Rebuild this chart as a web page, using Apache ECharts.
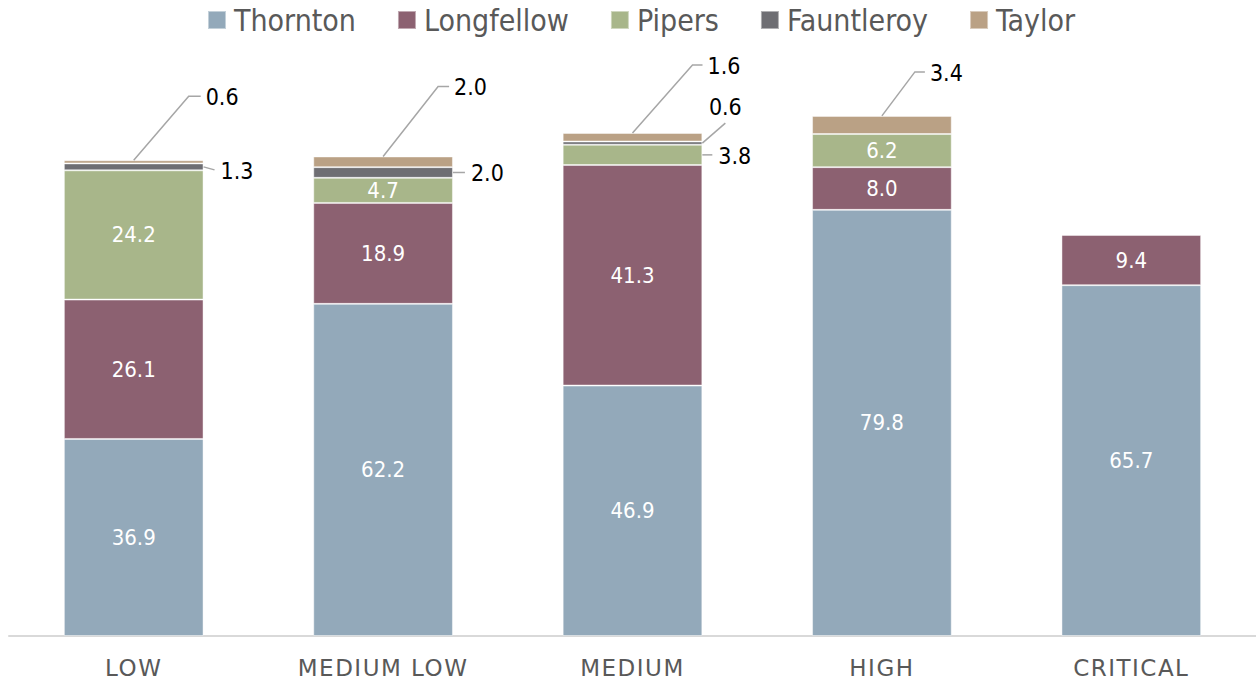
<!DOCTYPE html>
<html><head><meta charset="utf-8">
<script src="https://cdn.jsdelivr.net/npm/echarts@6/dist/echarts.min.js"></script>
<style>html,body{margin:0;padding:0;background:#fff}#c{width:1256px;height:682px}</style>
</head><body><div id="c"></div>
<script>
// ---- data ----
const categories = ['LOW', 'MEDIUM LOW', 'MEDIUM', 'HIGH', 'CRITICAL'];
const seriesNames = ['Thornton', 'Longfellow', 'Pipers', 'Fauntleroy', 'Taylor'];
const thornton   = [36.9, 62.2, 46.9, 79.8, 65.7];
const longfellow = [26.1, 18.9, 41.3, 8.0, 9.4];
const pipers     = [24.2, 4.7, 3.8, 6.2, null];
const fauntleroy = [1.3, 2.0, 0.6, null, null];
const taylor     = [0.6, 2.0, 1.6, 3.4, null];

// ---- styling / layout (not data) ----
const colors = ['#93A9BA', '#8C6171', '#A8B68A', '#6E6E73', '#BAA185'];
const BAR_RATIO = 0.56;
const INSIDE_MIN = 4;
const FONT = '"DejaVu Sans Condensed", "DejaVu Sans", sans-serif';
const leaderLayout = {
  'Fauntleroy|0': { kind: 'side', len: 11, dy: 3 },
  'Taylor|0':     { kind: 'up', dx: 55, dy: 64, h: 12 },
  'Fauntleroy|1': { kind: 'side', len: 12, dy: 0 },
  'Taylor|1':     { kind: 'up', dx: 55, dy: 70, h: 11 },
  'Pipers|2':     { kind: 'side', len: 10, dy: 0 },
  'Fauntleroy|2': { kind: 'diag', dx: 23, dy: 20 },
  'Taylor|2':     { kind: 'up', dx: 60, dy: 68, h: 10 },
  'Taylor|3':     { kind: 'up', dx: 33, dy: 44, h: 10 }
};

const valuesBySeries = [thornton, longfellow, pipers, fauntleroy, taylor];

// outside-label annotations, derived from the value arrays
const annotations = [];
const cum = categories.map(() => 0);
valuesBySeries.forEach((vals, s) => vals.forEach((v, i) => {
  if (v == null) return;
  const base = cum[i];
  cum[i] += v;
  if (v < INSIDE_MIN) {
    annotations.push({ ci: i, base: base, top: cum[i], v: v,
      lay: leaderLayout[seriesNames[s] + '|' + i] || { kind: 'side', len: 10, dy: 0 } });
  }
}));

const chart = echarts.init(document.getElementById('c'), null, { renderer: 'svg' });

const barSeries = seriesNames.map((name, s) => ({
  name: name,
  type: 'bar',
  stack: 'total',
  barWidth: (BAR_RATIO * 100) + '%',
  data: valuesBySeries[s],
  itemStyle: { color: colors[s], borderColor: 'rgba(255,255,255,0.45)', borderWidth: 1 },
  label: {
    show: true,
    position: 'inside',
    color: '#fff',
    fontSize: 22,
    fontFamily: FONT,
    formatter: p => (p.value != null && p.value >= INSIDE_MIN) ? p.value.toFixed(1) : ''
  },
  emphasis: { disabled: true }
}));

const leaderSeries = {
  type: 'custom',
  name: 'leaders',
  silent: true,
  z: 5,
  data: annotations.map(a => [a.ci, a.base, a.top, a.v]),
  renderItem: function (params, api) {
    const a = annotations[params.dataIndex];
    const L = a.lay;
    const pTop = api.coord([a.ci, a.top]);
    const pBase = api.coord([a.ci, a.base]);
    const cx = pTop[0];
    const half = api.size([1, 0])[0] * BAR_RATIO / 2;
    const right = cx + half;
    const mid = (pTop[1] + pBase[1]) / 2;
    let pts, tx, ty, align = 'left';
    if (L.kind === 'up') {
      const kx = cx + L.dx, ky = pTop[1] - L.dy;
      pts = [[cx, pTop[1]], [kx, ky], [kx + L.h, ky]];
      tx = kx + L.h + 5; ty = ky + 1;
    } else if (L.kind === 'side') {
      pts = [[right, mid], [right + L.len, mid + L.dy]];
      tx = right + L.len + 6; ty = mid + L.dy + 1;
    } else {
      const ex = right + L.dx, ey = mid - L.dy;
      pts = [[right, mid], [ex, ey]];
      tx = ex; ty = ey - 16; align = 'center';
    }
    return {
      type: 'group',
      children: [
        { type: 'polyline', shape: { points: pts }, style: { stroke: '#A6A6A6', lineWidth: 1.5, fill: 'none' } },
        { type: 'text', x: tx, y: ty,
          style: { text: a.v.toFixed(1), fill: '#000', font: '23px ' + FONT, align: align, verticalAlign: 'middle' } }
      ]
    };
  }
};

chart.setOption({
  animation: false,
  backgroundColor: '#fff',
  color: colors,
  legend: {
    data: seriesNames.map(n => ({ name: n, icon: 'rect' })),
    left: 207,
    top: 5,
    padding: 0,
    itemWidth: 18,
    itemHeight: 18,
    itemGap: 41,
    textStyle: { color: '#595959', fontSize: 30, fontFamily: FONT, padding: [0, 0, 0, 3] }
  },
  grid: { left: 9, right: 0, top: 102, bottom: 46, containLabel: false },
  xAxis: {
    type: 'category',
    data: categories,
    axisLine: { lineStyle: { color: '#D9D9D9', width: 2 } },
    axisTick: { show: false },
    axisLabel: { color: '#595959', fontSize: 23, fontFamily: '"DejaVu Sans", sans-serif', margin: 20 }
  },
  yAxis: { type: 'value', min: 0, max: 100, show: false, splitLine: { show: false } },
  series: barSeries.concat([leaderSeries])
});

function spaceAxisLabels() {
  document.querySelectorAll('#c svg text').forEach(t => {
    if (categories.indexOf(t.textContent) >= 0) t.style.letterSpacing = '1.5px';
  });
}
spaceAxisLabels();
chart.on('finished', spaceAxisLabels);
</script></body></html>
